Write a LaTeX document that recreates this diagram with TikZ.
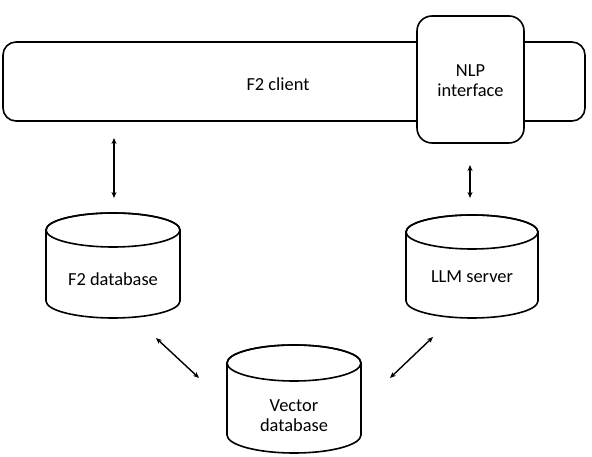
\documentclass[tikz,border=0pt]{standalone}
\usepackage{fontspec}
\setmainfont{Carlito}
\usetikzlibrary{arrows.meta}
\begin{document}
\begin{tikzpicture}[x=1pt,y=1pt,
  every node/.style={font=\fontsize{18.4}{21}\selectfont, align=center},
  box/.style={draw, line width=1.6pt, fill=white, rounded corners=13pt},
  cylline/.style={draw, line width=1.6pt, fill=white},
  arr/.style={{Stealth[length=6pt,width=5pt]}-{Stealth[length=6pt,width=5pt]}, line width=1.4pt}]
\useasboundingbox (0,0) rectangle (592,457);
\fill[white] (0,0) rectangle (592,457);

% F2 client bar
\node[box, minimum width=582pt, minimum height=79pt, inner sep=0pt] (client) at (294,375.5) {};
\node (clienttext) at (278,373) {F2 client};
% NLP interface
\node[box, rounded corners=15pt, minimum width=107pt, minimum height=127pt, inner sep=0pt] (nlp) at (470.5,377.5) {};
\node (nlptext) at (470.5,376) {NLP\\[-1pt]interface};

% cylinders: \cyl{cx}{topY}{botY}{rx}{ry}
\newcommand{\drawcyl}[5]{%
  \path[cylline] (#1-#4,#2-#5) -- (#1-#4,#3+#5) arc[start angle=180,end angle=360,x radius=#4,y radius=#5] -- (#1+#4,#2-#5) arc[start angle=0,end angle=180,x radius=#4,y radius=#5] -- cycle;
  \draw[line width=1.6pt] (#1,#2-#5) ellipse[x radius=#4,y radius=#5];
}
\drawcyl{113}{244}{139}{67}{17}
\node[minimum width=134pt, minimum height=105pt, inner sep=0pt] (f2db) at (113,191.5) {};
\node (f2dbtext) at (113,178) {F2 database};

\drawcyl{472}{242}{139}{66}{17}
\node[minimum width=132pt, minimum height=103pt, inner sep=0pt] (llm) at (472,190.5) {};
\node (llmtext) at (472,180) {LLM server};

\drawcyl{294}{112}{4}{67}{18}
\node[minimum width=134pt, minimum height=108pt, inner sep=0pt] (vec) at (294,58) {};
\node (vectext) at (294,41) {Vector\\[-1pt]database};

% arrow end points
\coordinate (a1s) at (114,319);
\coordinate (a1e) at (114,259);
\coordinate (a2s) at (470,292);
\coordinate (a2e) at (470,259);
\coordinate (a3s) at (156,119);
\coordinate (a3e) at (199,79);
\coordinate (a4s) at (433,120);
\coordinate (a4e) at (390,79);
\draw[arr] (a1s) -- (a1e);
\draw[arr] (a2s) -- (a2e);
\draw[arr] (a3s) -- (a3e);
\draw[arr] (a4s) -- (a4e);
\end{tikzpicture}
\end{document}
